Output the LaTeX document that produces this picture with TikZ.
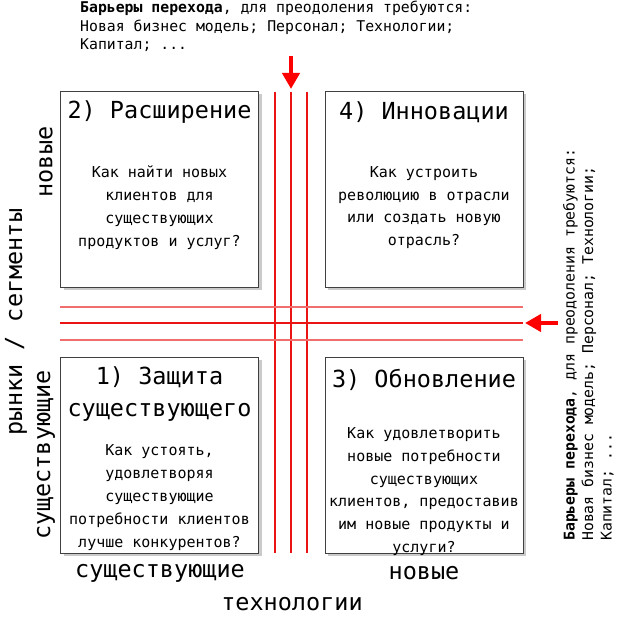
\documentclass[tikz,border=0pt]{standalone}
\usepackage{fontspec}
\setmainfont{DejaVu Sans Mono}
\setmonofont{DejaVu Sans Mono}
\usetikzlibrary{shadows,arrows.meta}
\definecolor{gridred}{RGB}{235,20,20}
\definecolor{gridpink}{RGB}{240,110,110}
\tikzset{
  quad/.style={draw=black!75, line width=0.9pt, fill=white, minimum width=198pt, minimum height=196pt, inner sep=0pt,
    drop shadow={shadow xshift=3pt, shadow yshift=-3pt, opacity=0.35, fill=black!60}},
  qtitle/.style={font=\fontsize{23.5}{32}\selectfont, align=center, text=black, inner sep=0pt},
  qbody/.style={font=\fontsize{15}{22.8}\selectfont, align=center, text=black, inner sep=0pt},
  axis/.style={font=\fontsize{23.5}{28}\selectfont, text=black, inner sep=0pt},
  note/.style={font=\fontsize{14.8}{18.5}\selectfont, align=left, text=black, inner sep=0pt},
  redline/.style={draw=gridred, line width=1.05pt},
  redlight/.style={draw=gridpink, line width=1.05pt},
  bigarrow/.style={draw=red, line width=4.5pt, -{Triangle[length=16pt,width=17pt]}}
}
\begin{document}
\begin{tikzpicture}[x=1pt,y=-1pt]
\useasboundingbox (0,0) rectangle (622,617);

% quadrant boxes
\node[quad] (q2) at (159.5,189.5) {};
\node[quad] (q4) at (424,189.5) {};
\node[quad] (q1) at (159.5,455.5) {};
\node[quad] (q3) at (424,455) {};

% red grid lines
\coordinate (v1t) at (275,92);  \coordinate (v1b) at (275,553);
\coordinate (v2t) at (291,92);  \coordinate (v2b) at (291,553);
\coordinate (v3t) at (307,92);  \coordinate (v3b) at (307,553);
\coordinate (h1l) at (60,307);  \coordinate (h1r) at (523,307);
\coordinate (h2l) at (60,323);  \coordinate (h2r) at (523,323);
\coordinate (h3l) at (60,340);  \coordinate (h3r) at (523,340);
\draw[redline] (v1t) -- (v1b);
\draw[redline] (v2t) -- (v2b);
\draw[redline] (v3t) -- (v3b);
\draw[redlight] (h1l) -- (h1r);
\draw[redline] (h2l) -- (h2r);
\draw[redlight] (h3l) -- (h3r);

% arrows
\coordinate (atop0) at (291,56);
\coordinate (atop1) at (291,89);
\draw[bigarrow] (atop0) -- (atop1);
\coordinate (art0) at (558,323);
\coordinate (art1) at (525,323);
\draw[bigarrow] (art0) -- (art1);

% box texts
\node[qtitle] (t2) at (159.5,112) {2) Расширение};
\node[qbody] (b2) at (159.5,207.5) {Как найти новых\\клиентов для\\существующих\\продуктов и услуг?};

\node[qtitle] (t4) at (424,112) {4) Инновации};
\node[qbody] (b4) at (424,207.5) {Как устроить\\революцию в отрасли\\или создать новую\\отрасль?};

\node[qtitle] (t1) at (159.5,394) {1) Защита\\существующего};
\node[qbody] (b1) at (159.5,497.5) {Как устоять,\\удовлетворяя\\существующие\\потребности клиентов\\лучше конкурентов?};

\node[qtitle] (t3) at (424,380) {3) Обновление};
\node[qbody] (b3) at (424,491.5) {Как удовлетворить\\новые потребности\\существующих\\клиентов, предоставив\\им новые продукты и\\услуги?};

% axis labels
\node[axis] (xa1) at (160,573) {существующие};
\node[axis] (xa2) at (424,573) {новые};
\node[axis] (xa) at (292,604) {технологии};
\node[axis, rotate=90] (ya) at (16,322) {рынки / сегменты};
\node[axis, rotate=90] (ya1) at (46,455) {существующие};
\node[axis, rotate=90] (ya2) at (46,162) {новые};

% notes
\node[note, anchor=north west] (ntop) at (80,1) {\textbf{Барьеры перехода}, для преодоления требуются:\\Новая бизнес модель; Персонал; Технологии;\\Капитал; ...};
\node[note, anchor=north west, rotate=90] (nright) at (563,541) {\textbf{Барьеры перехода}, для преодоления требуются:\\Новая бизнес модель; Персонал; Технологии;\\Капитал; ...};
\end{tikzpicture}
\end{document}
